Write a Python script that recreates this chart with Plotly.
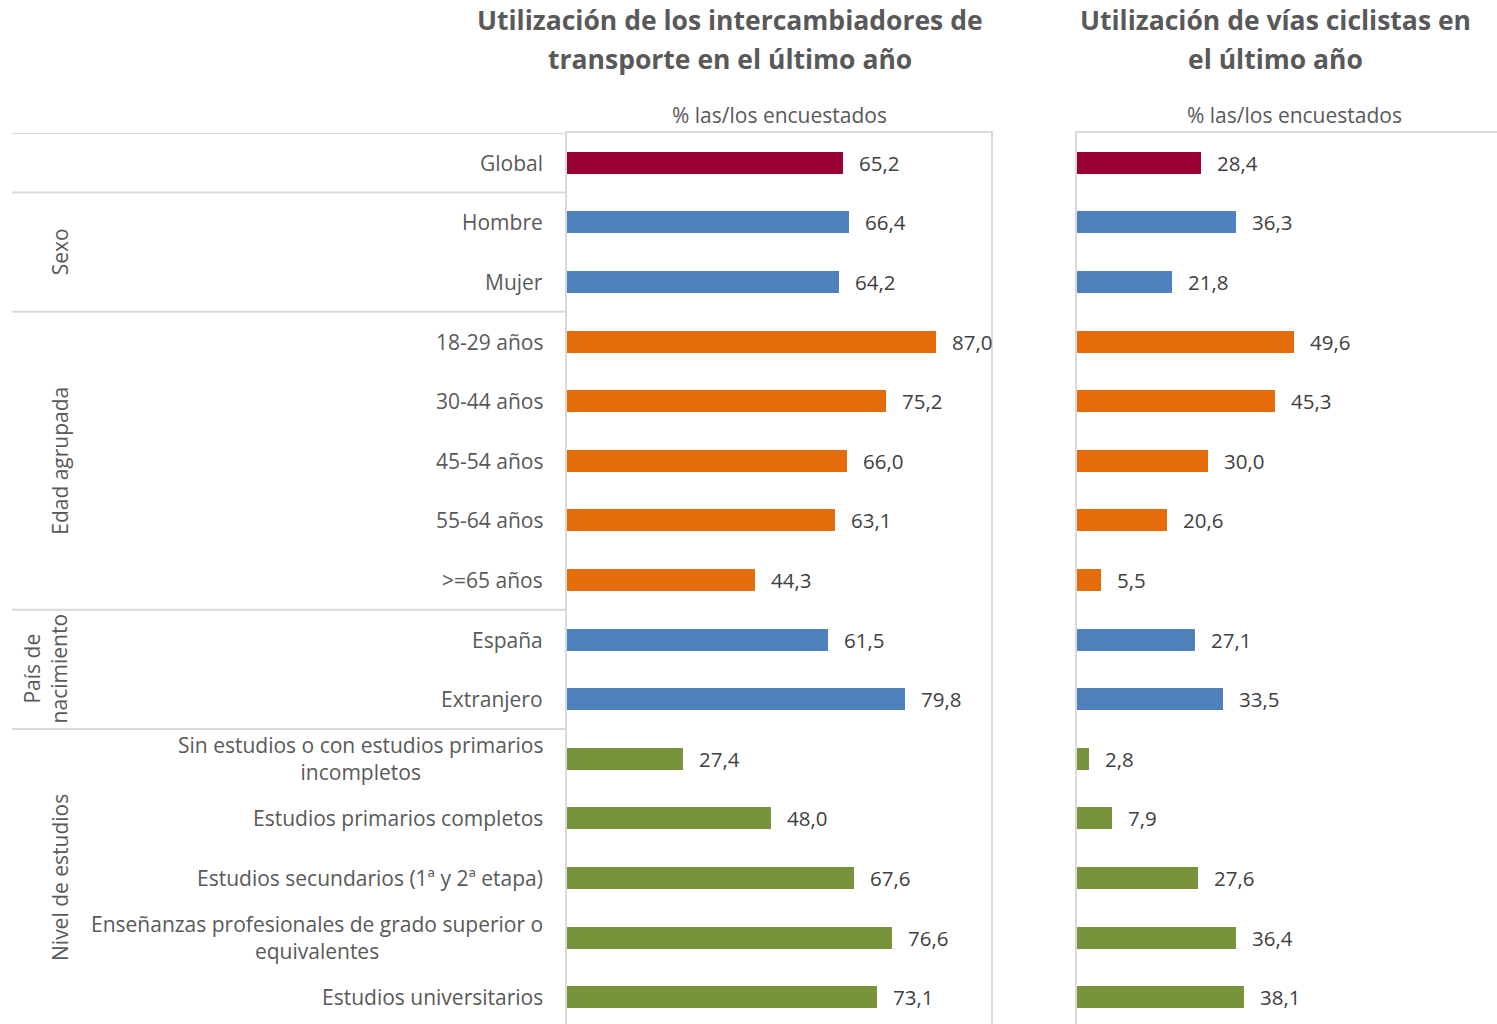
import plotly.graph_objects as go

# Categories (top to bottom) and their on-chart labels
categories = [
    "Global", "Hombre", "Mujer",
    "18-29 años", "30-44 años", "45-54 años", "55-64 años", ">=65 años",
    "España", "Extranjero",
    "Sin estudios o con estudios primarios incompletos",
    "Estudios primarios completos",
    "Estudios secundarios (1ª y 2ª etapa)",
    "Enseñanzas profesionales de grado superior o equivalentes",
    "Estudios universitarios",
]
category_labels = [
    "Global", "Hombre", "Mujer",
    "18-29 años", "30-44 años", "45-54 años", "55-64 años", ">=65 años",
    "España", "Extranjero",
    "Sin estudios o con estudios primarios<br>incompletos",
    "Estudios primarios completos",
    "Estudios secundarios (1ª y 2ª etapa)",
    "Enseñanzas profesionales de grado superior o<br>equivalentes",
    "Estudios universitarios",
]
groups = (["Global"] + ["Sexo"] * 2 + ["Edad agrupada"] * 5
          + ["País de nacimiento"] * 2 + ["Nivel de estudios"] * 5)
group_labels = {
    "Global": "",
    "Sexo": "Sexo",
    "Edad agrupada": "Edad agrupada",
    "País de nacimiento": "País de<br>nacimiento",
    "Nivel de estudios": "Nivel de estudios",
}

# % of respondents
intercambiadores = [65.2, 66.4, 64.2, 87.0, 75.2, 66.0, 63.1, 44.3, 61.5, 79.8,
                    27.4, 48.0, 67.6, 76.6, 73.1]
vias_ciclistas = [28.4, 36.3, 21.8, 49.6, 45.3, 30.0, 20.6, 5.5, 27.1, 33.5,
                  2.8, 7.9, 27.6, 36.4, 38.1]

titles = [["Utilización de los intercambiadores de", "transporte en el último año"],
          ["Utilización de vías ciclistas en", "el último año"]]
axis_subtitle = "% las/los encuestados"

group_colors = {
    "Global": "#990033",
    "Sexo": "#4F81BD",
    "Edad agrupada": "#E46C0A",
    "País de nacimiento": "#4F81BD",
    "Nivel de estudios": "#77933C",
}
bar_colors = [group_colors[g] for g in groups]

W, H = 1497, 1024
FONT = "Open Sans"
LABEL_COLOR = "#595959"
VALUE_COLOR = "#404040"
LINE_COLOR = "#D9D9D9"

left_x0, left_x1 = 567 / W, 991 / W
right_x0 = 1077 / W
px_per_unit_right = 4.37
right_max = (W - 1077) / px_per_unit_right
plot_top = (H - 133) / H
y_range = [14.45, -0.5]

fig = go.Figure()
fig.add_trace(go.Bar(
    x=intercambiadores, y=categories, orientation="h",
    marker=dict(color=bar_colors, line=dict(width=0)),
    width=0.37, xaxis="x", yaxis="y", hoverinfo="x+y",
))
fig.add_trace(go.Bar(
    x=vias_ciclistas, y=categories, orientation="h",
    marker=dict(color=bar_colors, line=dict(width=0)),
    width=0.37, xaxis="x2", yaxis="y2", hoverinfo="x+y",
))

annotations = []
# value labels next to each bar
for xref, yref, vals in (("x", "y", intercambiadores), ("x2", "y2", vias_ciclistas)):
    for cat, v in zip(categories, vals):
        annotations.append(dict(
            x=v, y=cat, xref=xref, yref=yref, text=f"{v:.1f}".replace(".", ","),
            showarrow=False, xanchor="left", yanchor="middle", xshift=14,
            font=dict(family=FONT, size=20.5, color=VALUE_COLOR),
        ))

# category labels, right aligned against the left panel
for cat, lab in zip(categories, category_labels):
    annotations.append(dict(
        x=545 / W, y=cat, xref="paper", yref="y", text=lab,
        showarrow=False, xanchor="right", yanchor="middle", align="center",
        font=dict(family=FONT, size=21, color=LABEL_COLOR),
    ))

# group labels (rotated) and separator lines
shapes = []
order = []
for g in groups:
    if g not in order:
        order.append(g)
for g in order:
    idx = [i for i, gg in enumerate(groups) if gg == g]
    first, last = idx[0], idx[-1]
    shapes.append(dict(
        type="line", xref="paper", yref="y", x0=12 / W, x1=left_x0,
        y0=first - 0.5, y1=first - 0.5, line=dict(color=LINE_COLOR, width=2),
    ))
    if group_labels[g]:
        annotations.append(dict(
            x=(60 if "<br>" not in group_labels[g] else 45) / W,
            y=(first + last) / 2, xref="paper", yref="y",
            text=group_labels[g], textangle=-90, showarrow=False,
            xanchor="center", yanchor="middle", align="center",
            font=dict(family=FONT, size=21, color=LABEL_COLOR),
        ))

# titles (one annotation per line) and axis subtitles
for cx, lines in ((730, titles[0]), (1275, titles[1])):
    for ly, line in zip((20, 59), lines):
        annotations.append(dict(
            x=cx / W, y=(H - ly) / H, xref="paper", yref="paper",
            text=f"<b>{line}</b>", showarrow=False,
            xanchor="center", yanchor="middle",
            font=dict(family=FONT, size=26.5, color=LABEL_COLOR),
        ))
for cx in (779, 1294):
    annotations.append(dict(
        x=cx / W, y=(H - 115) / H, xref="paper", yref="paper", text=axis_subtitle,
        showarrow=False, xanchor="center", yanchor="middle",
        font=dict(family=FONT, size=21, color=LABEL_COLOR),
    ))

axis_common = dict(showgrid=False, zeroline=False, showticklabels=False,
                   ticks="", fixedrange=True)
fig.update_layout(
    width=W, height=H,
    margin=dict(l=0, r=0, t=0, b=0),
    paper_bgcolor="white", plot_bgcolor="white",
    showlegend=False, bargap=0,
    font=dict(family=FONT, color=LABEL_COLOR),
    xaxis=dict(domain=[left_x0, left_x1], range=[0, 100], anchor="y",
               showline=True, mirror=True, linecolor=LINE_COLOR, linewidth=2,
               **axis_common),
    yaxis=dict(domain=[0, plot_top], range=y_range, type="category",
               categoryorder="array", categoryarray=categories, anchor="x",
               showline=True, mirror=True, linecolor=LINE_COLOR, linewidth=2,
               **axis_common),
    xaxis2=dict(domain=[right_x0, 1], range=[0, right_max], anchor="y2",
                side="top", showline=True, linecolor=LINE_COLOR, linewidth=2,
                **axis_common),
    yaxis2=dict(domain=[0, plot_top], range=y_range, type="category",
                categoryorder="array", categoryarray=categories, anchor="x2",
                showline=True, linecolor=LINE_COLOR, linewidth=2,
                **axis_common),
    annotations=annotations,
    shapes=shapes,
)

fig.write_html("out.html")
